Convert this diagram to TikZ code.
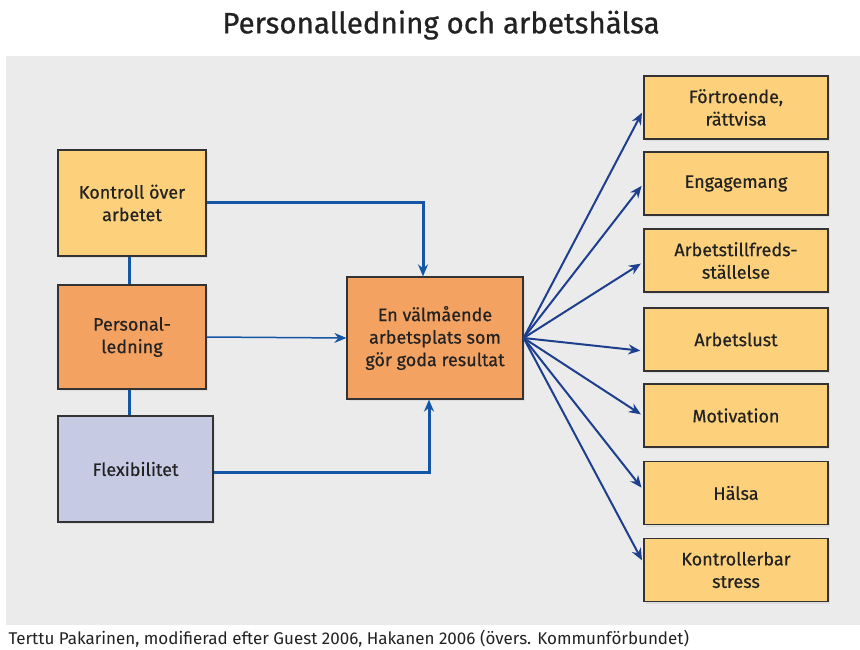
\documentclass[tikz,border=0pt]{standalone}
\usepackage{fontspec}
\setmainfont{Fira Sans}
\newfontfamily\boxfont{Fira Sans}[FakeBold=0.5]
\newfontfamily\titlefont{Fira Sans}[FakeBold=0.7]
\usetikzlibrary{arrows.meta,shadows}
\definecolor{bgcol}{HTML}{EBEBEB}
\definecolor{yel}{HTML}{FDD17C}
\definecolor{ora}{HTML}{F3A262}
\definecolor{lav}{HTML}{C6CAE3}
\definecolor{navy}{HTML}{1E3F8E}
\definecolor{midblue}{HTML}{1456A6}
\definecolor{edge}{HTML}{333333}
\definecolor{txt}{HTML}{222222}
\tikzset{
  boxbase/.style={draw=edge, line width=1.2pt, align=center, text=txt,
    font=\boxfont\fontsize{18}{22.5}\selectfont, inner sep=0pt,
    drop shadow={opacity=0.12, shadow xshift=2pt, shadow yshift=-2pt}},
  leftbox/.style={boxbase, minimum width=148pt, minimum height=106pt},
  outbox/.style={boxbase, fill=yel, minimum width=184pt, minimum height=63pt},
  thickline/.style={draw=midblue, line width=3pt},
  thinline/.style={draw=midblue, line width=1.5pt},
  fanline/.style={draw=navy, line width=2pt, -{Stealth[length=12pt,width=10pt]}, shorten >=3pt},
  tip/.style={-{Stealth[length=12pt,width=10pt]}}
}
\begin{document}
\begin{tikzpicture}[x=1pt,y=-1pt]
\useasboundingbox (0,0) rectangle (860,650);
\fill[white] (0,0) rectangle (860,650);
\fill[bgcol] (6,56) rectangle (860,625);
\node[font=\titlefont\fontsize{29.5}{34}\selectfont, text=txt] (title) at (441,25) {Personalledning och arbetshälsa};
\node[font=\fontsize{17}{20}\selectfont, text=txt, anchor=west] (cap) at (5,639) {Terttu Pakarinen, modifierad efter Guest 2006, Hakanen 2006 (övers. Kommunförbundet)};

\node[leftbox, fill=yel] (k) at (132,203) {Kontroll över\\arbetet};
\node[leftbox, fill=ora, minimum height=104pt] (p) at (132,337) {Personal-\\ledning};
\node[leftbox, fill=lav, minimum width=155pt] (f) at (135.5,469) {Flexibilitet};
\node[boxbase, fill=ora, minimum width=176pt, minimum height=122pt] (c) at (435,338) {En välmående\\arbetsplats som\\gör goda resultat};

\node[outbox] (r1) at (736,107.5) {Förtroende,\\rättvisa};
\node[outbox] (r2) at (736,183.5) {Engagemang};
\node[outbox] (r3) at (736,260.5) {Arbetstillfreds-\\ställelse};
\node[outbox] (r4) at (736,339.5) {Arbetslust};
\node[outbox] (r5) at (736,415.5) {Motivation};
\node[outbox] (r6) at (736,493) {Hälsa};
\node[outbox] (r7) at (736,570) {Kontrollerbar\\stress};

\draw[thickline] (k.south -| 129,0) -- (p.north -| 129,0);
\draw[thickline] (p.south -| 129,0) -- (f.north -| 129,0);
\draw[thickline, tip] (k.east) -| ([xshift=-12pt]c.north);
\draw[thickline, tip] ([yshift=-3pt]f.east) -| ([xshift=-6pt]c.south);
\draw[thinline, tip] (p.east) -- (c.west);

\draw[fanline] (c.east) -- ([yshift=-2.5pt]r1.west);
\draw[fanline] (c.east) -- (r2.west);
\draw[fanline] (c.east) -- ([yshift=-1.5pt]r3.west);
\draw[fanline] (c.east) -- ([yshift=-11.5pt]r4.west);
\draw[fanline] (c.east) -- ([yshift=-0.5pt]r5.west);
\draw[fanline] (c.east) -- ([yshift=3pt]r6.west);
\draw[fanline] (c.east) -- ([yshift=7pt]r7.west);
\end{tikzpicture}
\end{document}
